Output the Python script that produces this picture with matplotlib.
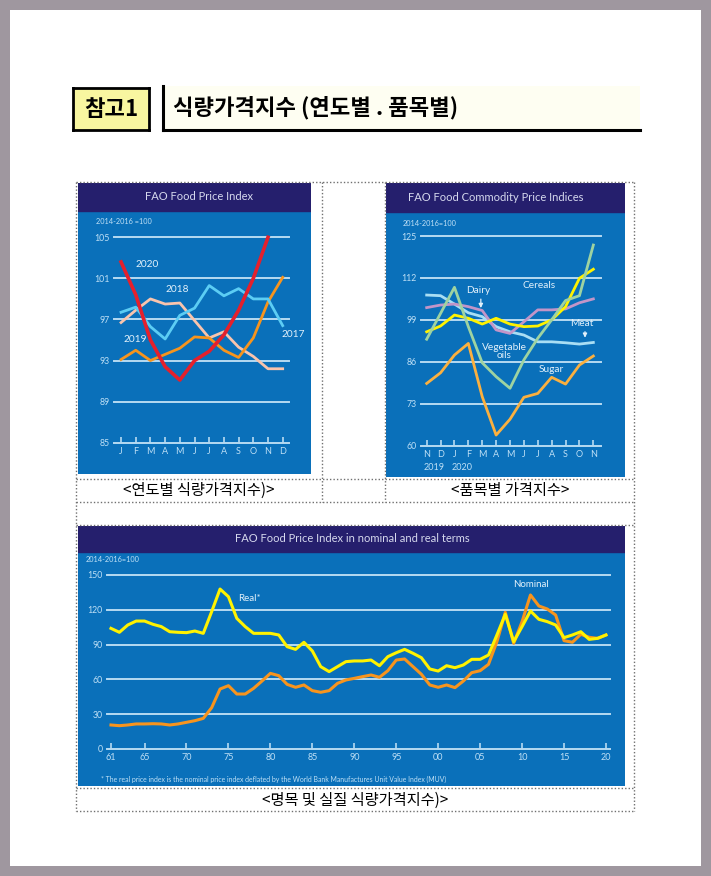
import numpy as np
import matplotlib.pyplot as plt
from matplotlib.patches import Rectangle
from matplotlib.lines import Line2D

plt.rcParams['font.family'] = ['Noto Sans CJK KR', 'DejaVu Sans']

W, H = 711, 876

# ---- data: chart 1 (FAO Food Price Index by year)
months_1 = ['J', 'F', 'M', 'A', 'M', 'J', 'J', 'A', 'S', 'O', 'N', 'D']
y2017 = [97.7, 98.2, 96.3, 95.1, 97.4, 98.1, 100.3, 99.3, 100.0, 99.0, 99.0, 96.4]
y2018 = [96.7, 97.9, 99.0, 98.5, 98.6, 96.9, 95.2, 95.8, 94.3, 93.4, 92.2, 92.2]
y2019 = [93.1, 94.0, 93.0, 93.6, 94.2, 95.3, 95.2, 94.0, 93.3, 95.2, 98.7, 101.1]
y2020 = [102.6, 99.4, 95.0, 92.4, 91.1, 93.0, 93.9, 95.5, 97.9, 101.0, 105.0]
ticks_1 = [85, 89, 93, 97, 101, 105]

# ---- data: chart 2 (commodity indices, Nov 2019 - Nov 2020)
months_2 = ['N', 'D', 'J', 'F', 'M', 'A', 'M', 'J', 'J', 'A', 'S', 'O', 'N']
sugar = [79.3, 82.6, 88.1, 91.7, 75.2, 63.3, 68.2, 75.0, 76.2, 81.2, 79.1, 85.0, 87.8]
veg_oils = [93.0, 101.0, 109.1, 96.9, 85.7, 81.4, 77.8, 86.6, 93.3, 99.0, 105.0, 106.5, 122.2]
cereals = [95.3, 97.1, 100.5, 99.5, 97.7, 99.5, 97.7, 96.9, 97.1, 99.0, 103.1, 111.9, 114.7]
dairy = [102.8, 103.6, 103.9, 103.1, 101.9, 95.9, 94.8, 98.4, 102.1, 102.1, 102.4, 104.3, 105.5]
meat = [106.7, 106.5, 103.9, 101.2, 100.0, 96.9, 95.3, 94.3, 92.2, 92.2, 91.9, 91.5, 92.0]
ticks_2 = [60, 73, 86, 99, 112, 125]

# ---- data: chart 3 (nominal and real, 1961-2020)
years = list(range(1961, 2021))
real = [104.0, 100.6, 106.9, 110.3, 110.3, 107.5, 105.5, 101.1, 100.6, 100.3,
        101.7, 99.7, 118.4, 137.9, 131.3, 112.6, 105.5, 99.7, 99.7, 99.7,
        98.3, 88.2, 85.9, 92.0, 84.5, 71.0, 66.7, 71.0, 75.3, 75.9,
        75.9, 76.7, 71.8, 79.6, 83.0, 85.9, 82.5, 78.7, 69.0, 67.2,
        71.8, 70.1, 72.4, 77.3, 77.3, 81.0, 98.3, 116.1, 92.5, 105.5,
        119.0, 111.8, 109.8, 106.9, 96.0, 98.3, 101.1, 94.5, 95.4, 98.3]
nominal = [20.7, 20.1, 20.7, 21.6, 21.6, 21.8, 21.6, 20.7, 21.6, 23.0,
           24.4, 26.4, 35.6, 51.7, 54.6, 47.4, 47.4, 52.3, 58.6, 65.2,
           63.2, 55.7, 53.2, 55.2, 50.3, 48.9, 50.3, 56.6, 59.5, 60.9,
           62.4, 63.8, 61.8, 67.5, 76.7, 77.6, 71.0, 64.4, 55.2, 53.2,
           55.2, 52.9, 58.6, 65.8, 67.5, 73.0, 92.5, 117.8, 91.1, 109.8,
           132.8, 123.3, 120.7, 115.5, 93.4, 92.0, 98.9, 96.3, 95.4, 98.3]
ticks_3 = [0, 30, 60, 90, 120, 150]
year_ticks = [1961, 1965, 1970, 1975, 1980, 1985, 1990, 1995, 2000, 2005, 2010, 2015, 2020]
year_labels = ['61', '65', '70', '75', '80', '85', '90', '95', '00', '05', '10', '15', '20']

BLUE = '#0a70ba'
NAVY = '#251f6d'
GRID = '#b6daf2'
TXT = '#bfe0f6'
LBL = '#e2f1fb'
CF = ['Lato', 'DejaVu Sans']


def box(x0, y0, x1, y1):
    return [x0 / W, 1 - y1 / H, (x1 - x0) / W, (y1 - y0) / H]


fig = plt.figure(figsize=(W / 100, H / 100), dpi=100)
fig.patch.set_facecolor('#9f979f')

page = fig.add_axes(box(10, 10, 701, 866))
page.set_facecolor('white')
page.set_xticks([])
page.set_yticks([])
for s in page.spines.values():
    s.set_visible(False)


def fline(x0, y0, x1, y1, **kw):
    fig.add_artist(Line2D([x0 / W, x1 / W], [1 - y0 / H, 1 - y1 / H], **kw))


# header
hdr = fig.add_axes(box(73, 88, 149, 130))
hdr.set_facecolor('#f8f6a0')
hdr.set_xticks([])
hdr.set_yticks([])
for s in hdr.spines.values():
    s.set_linewidth(2)
hdr.text(0.5, 0.5, '참고1', ha='center', va='center', fontsize=16, fontweight='bold')

ttl = fig.add_axes(box(163, 86, 640, 130))
ttl.set_facecolor('#fefef2')
ttl.set_xticks([])
ttl.set_yticks([])
ttl.spines['top'].set_visible(False)
ttl.spines['right'].set_visible(False)
ttl.spines['left'].set_linewidth(2.2)
ttl.spines['bottom'].set_linewidth(2.2)
ttl.text(0.022, 0.5, '식량가격지수 (연도별 . 품목별)', ha='left', va='center',
         fontsize=16, fontweight='bold', transform=ttl.transAxes)

# dotted table
dot = dict(color='#707070', lw=1.0, ls=(0, (1, 1.5)))
for yy in [182, 479, 502, 525, 788, 811]:
    fline(76, yy, 634, yy, **dot)
fline(76, 182, 76, 811, **dot)
fline(634, 182, 634, 811, **dot)
fline(322, 182, 322, 502, **dot)
fline(385, 182, 385, 502, **dot)

fig.text(199 / W, 1 - 490 / H, '<연도별 식량가격지수)>', ha='center', va='center', fontsize=11)
fig.text(510 / W, 1 - 490 / H, '<품목별 가격지수>', ha='center', va='center', fontsize=11)
fig.text(355 / W, 1 - 800 / H, '<명목 및 실질 식량가격지수)>', ha='center', va='center', fontsize=11)


def panel(x0, y0, x1, y1, bar, title, tx):
    bg = fig.add_axes(box(x0, y0, x1, y1))
    bg.set_facecolor(BLUE)
    bg.set_xticks([])
    bg.set_yticks([])
    for s in bg.spines.values():
        s.set_visible(False)
    bg.set_xlim(x0, x1)
    bg.set_ylim(y1, y0)
    bg.add_patch(Rectangle((x0, y0), x1 - x0, bar - y0, color=NAVY))
    bg.text(tx, (y0 + bar) / 2, title, ha='center', va='center', color='#d6d9ee',
            fontsize=8, family=CF)
    return bg


def plot_axes(x0, y0, x1, y1, xlim, ylim, gridvals):
    ax = fig.add_axes(box(x0, y0, x1, y1))
    ax.patch.set_alpha(0)
    ax.set_xlim(*xlim)
    ax.set_ylim(*ylim)
    for s in ['top', 'right', 'left']:
        ax.spines[s].set_visible(False)
    ax.spines['bottom'].set_color(GRID)
    ax.spines['bottom'].set_linewidth(1.4)
    for g in gridvals[1:]:
        ax.axhline(g, color=GRID, lw=1.4, clip_on=False, zorder=1)
    ax.set_yticks(gridvals)
    ax.tick_params(axis='y', length=0, labelsize=6.3, labelcolor=TXT, pad=3)
    ax.tick_params(axis='x', direction='in', length=4, width=1.2, color=GRID,
                   labelsize=6.5, labelcolor=TXT, pad=3)
    return ax


def set_font(ax):
    for lab in ax.get_xticklabels() + ax.get_yticklabels():
        lab.set_family(CF)


# ---- chart 1
panel(78, 183, 311, 474, 211, 'FAO Food Price Index', 199)
fig.text(96 / W, 1 - 221 / H, '2014-2016 =100', color=TXT, fontsize=5.3, va='center', family=CF)
ax1 = plot_axes(113.7, 237.3, 289.3, 442.7, (-0.5, 11.45), (85, 105), ticks_1)
x1 = np.arange(len(months_1))
ax1.set_xticks(x1)
ax1.set_xticklabels(months_1)
set_font(ax1)
ax1.plot(x1, y2018, color='#f9c4ad', lw=2.0, clip_on=False, zorder=3)
ax1.plot(x1, y2019, color='#f7941d', lw=2.0, clip_on=False, zorder=3)
ax1.plot(x1, y2017, color='#5ccdf4', lw=2.0, clip_on=False, zorder=4)
ax1.plot(x1[:len(y2020)], y2020, color='#e4202c', lw=2.6, clip_on=False, zorder=5)
for t, xx, yy in [('2020', 1.0, 102.4), ('2018', 3.05, 99.9), ('2019', 0.2, 95.0), ('2017', 10.9, 95.5)]:
    ax1.text(xx, yy, t, color=LBL, fontsize=7.3, family=CF, va='center', ha='left')

# ---- chart 2
panel(386, 183, 625, 477, 212, 'FAO Food Commodity Price Indices', 496)
fig.text(403 / W, 1 - 223 / H, '2014-2016=100', color=TXT, fontsize=5.3, va='center', family=CF)
ax2 = plot_axes(420.7, 236, 600.7, 445.7, (-0.43, 12.53), (60, 125), ticks_2)
x2 = np.arange(len(months_2))
ax2.set_xticks(x2)
ax2.set_xticklabels(months_2)
set_font(ax2)
ax2.plot(x2, sugar, color='#fbb03f', lw=2.0, clip_on=False, zorder=3)
ax2.plot(x2, meat, color='#a9def4', lw=2.0, clip_on=False, zorder=3)
ax2.plot(x2, dairy, color='#c295c8', lw=2.0, clip_on=False, zorder=3)
ax2.plot(x2, cereals, color='#fff200', lw=2.0, clip_on=False, zorder=4)
ax2.plot(x2, veg_oils, color='#9ed3a1', lw=2.0, clip_on=False, zorder=5)
ax2.text(3.7, 108.2, 'Dairy', color=LBL, fontsize=7.3, family=CF, ha='center', va='center')
ax2.annotate('', xy=(3.9, 101.8), xytext=(3.9, 106.3),
             arrowprops=dict(arrowstyle='-|>', color=LBL, lw=0.9, mutation_scale=6))
ax2.text(8.1, 109.6, 'Cereals', color=LBL, fontsize=7.3, family=CF, ha='center', va='center')
ax2.text(11.2, 97.8, 'Meat', color=LBL, fontsize=7.3, family=CF, ha='center', va='center')
ax2.annotate('', xy=(11.4, 92.6), xytext=(11.4, 96.2),
             arrowprops=dict(arrowstyle='-|>', color=LBL, lw=0.9, mutation_scale=6))
ax2.text(5.6, 89.2, 'Vegetable\noils', color=LBL, fontsize=7.3, family=CF, ha='center',
         va='center', linespacing=0.95)
ax2.text(9.0, 83.6, 'Sugar', color=LBL, fontsize=7.3, family=CF, ha='center', va='center')
for t, xx in [('2019', 0), ('2020', 2)]:
    ax2.text(xx - 0.2, -0.082, t, transform=ax2.get_xaxis_transform(), color=TXT,
             fontsize=6.5, family=CF, ha='left', va='top')

# ---- chart 3
panel(78, 526, 625, 786, 552, 'FAO Food Price Index in nominal and real terms', 352)
fig.text(86 / W, 1 - 560 / H, '2014-2016=100', color=TXT, fontsize=5.3, va='center', family=CF)
ax3 = plot_axes(106.7, 575, 610, 749, (1960.49, 2020.48), (0, 150), ticks_3)
ax3.set_xticks(year_ticks)
ax3.set_xticklabels(year_labels)
set_font(ax3)
ax3.plot(years, nominal, color='#f7941d', lw=2.2, clip_on=False, zorder=3)
ax3.plot(years, real, color='#fff200', lw=2.2, clip_on=False, zorder=4)
ax3.text(1976.2, 130, 'Real*', color=LBL, fontsize=7, family=CF, ha='left', va='center')
ax3.text(2008.9, 141.4, 'Nominal', color=LBL, fontsize=7, family=CF, ha='left', va='center')
fig.text(101 / W, 1 - 779 / H,
         '* The real price index is the nominal price index deflated by the World Bank '
         'Manufactures Unit Value Index (MUV)', color=TXT, fontsize=4.95, va='center', family=CF)

fig.savefig('out.png', dpi=100, facecolor=fig.get_facecolor())
